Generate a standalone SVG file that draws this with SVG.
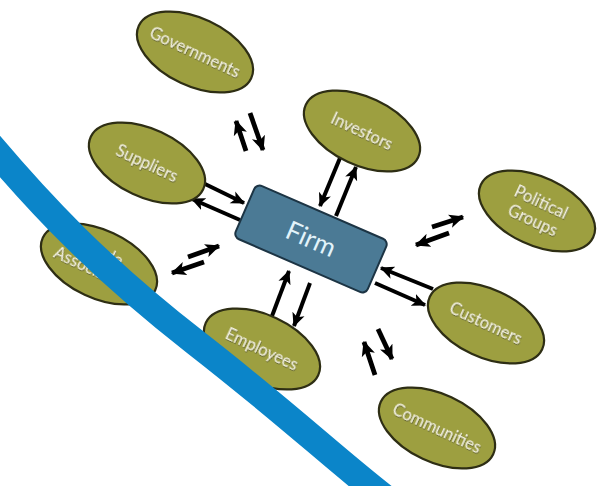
<svg xmlns="http://www.w3.org/2000/svg" width="615" height="486" viewBox="0 0 615 486">
<defs>
<marker id="ah" viewBox="0 0 12 12" markerUnits="userSpaceOnUse" markerWidth="14" markerHeight="14" refX="11" refY="6" orient="auto">
<path d="M0,0.5 L12,6 L0,11.5 L3,6 z" fill="#000"/>
</marker>
<marker id="ah2" viewBox="0 0 12 12" markerUnits="userSpaceOnUse" markerWidth="15" markerHeight="15" refX="11" refY="6" orient="auto">
<path d="M0,0.5 L12,6 L0,11.5 L3,6 z" fill="#000"/>
</marker>
<filter id="sh" x="-20%" y="-20%" width="140%" height="140%">
<feDropShadow dx="0.8" dy="0.8" stdDeviation="0.6" flood-color="#333" flood-opacity="0.6"/>
</filter>
</defs>
<style>
.ell{fill:#9d9f40;stroke:#2e2e14;stroke-width:2.2}
.lbl{font-family:Lato,"Open Sans","DejaVu Sans",sans-serif;font-size:16.5px;fill:#f3f1e2;text-anchor:middle;filter:url(#sh)}
.arr{stroke:#000;stroke-width:4;fill:none;marker-end:url(#ah)}
.sarr{stroke:#000;stroke-width:4.8;fill:none;marker-end:url(#ah2)}
</style>
<rect width="615" height="486" fill="#fff"/>
<g id="connectors">
<line class="arr" x1="203" y1="183" x2="244" y2="203"/>
<line class="arr" x1="240" y1="220" x2="192" y2="199"/>
<line class="arr" x1="340" y1="158" x2="320" y2="206"/>
<line class="arr" x1="336" y1="216" x2="356" y2="167"/>
<line class="arr" x1="433" y1="289" x2="381" y2="268"/>
<line class="arr" x1="375" y1="283" x2="425" y2="305"/>
<line class="arr" x1="272" y1="316" x2="289" y2="271"/>
<line class="arr" x1="310" y1="283" x2="294" y2="326"/>
<line class="sarr" x1="246" y1="151" x2="236" y2="121"/>
<line class="sarr" x1="250" y1="113" x2="263" y2="150"/>
<line class="sarr" x1="188" y1="257" x2="219" y2="246"/>
<line class="sarr" x1="204" y1="262" x2="172" y2="273"/>
<line class="sarr" x1="432" y1="227" x2="463" y2="217"/>
<line class="sarr" x1="449" y1="233" x2="416" y2="245"/>
<line class="sarr" x1="375" y1="375" x2="364" y2="342"/>
<line class="sarr" x1="378" y1="329" x2="392" y2="359"/>
</g>
<g id="governments" transform="translate(195,52) rotate(25)">
<ellipse class="ell" rx="62" ry="34"/>
<text class="lbl" y="5.5">Governments</text>
</g>
<g id="investors" transform="translate(362,131) rotate(25)">
<ellipse class="ell" rx="62" ry="34"/>
<text class="lbl" y="5.5">Investors</text>
</g>
<g id="suppliers" transform="translate(147,163) rotate(25)">
<ellipse class="ell" rx="62" ry="34"/>
<text class="lbl" y="5.5">Suppliers</text>
</g>
<g id="political-groups" transform="translate(537,211) rotate(25)">
<ellipse class="ell" rx="62" ry="34"/>
<text class="lbl" y="-4">Political</text>
<text class="lbl" y="16">Groups</text>
</g>
<g id="trade-associations" transform="translate(99,264) rotate(25)">
<ellipse class="ell" rx="62" ry="34"/>
<text class="lbl" y="-6">Trade</text>
<text class="lbl" y="13">Associations</text>
</g>
<g id="customers" transform="translate(486,323) rotate(25)">
<ellipse class="ell" rx="62" ry="34"/>
<text class="lbl" y="5.5">Customers</text>
</g>
<g id="employees" transform="translate(262,349) rotate(25)">
<ellipse class="ell" rx="62" ry="34"/>
<text class="lbl" y="5.5">Employees</text>
</g>
<g id="communities" transform="translate(437,428) rotate(25)">
<ellipse class="ell" rx="62" ry="34"/>
<text class="lbl" y="5.5">Communities</text>
</g>
<g id="firm" transform="translate(311,239) rotate(23.5)">
<rect x="-72" y="-29" width="144" height="58" rx="6" fill="#4b7a95" stroke="#1c3444" stroke-width="2"/>
<text x="0" y="9" font-family="Lato,'Open Sans','DejaVu Sans',sans-serif" font-size="26" fill="#e2f3fa" text-anchor="middle">Firm</text>
</g>
<path id="band" d="M-20,133 C40,205 100,268 195,342 S330,455 385,498" fill="none" stroke="#0b85c9" stroke-width="27"/>
</svg>
